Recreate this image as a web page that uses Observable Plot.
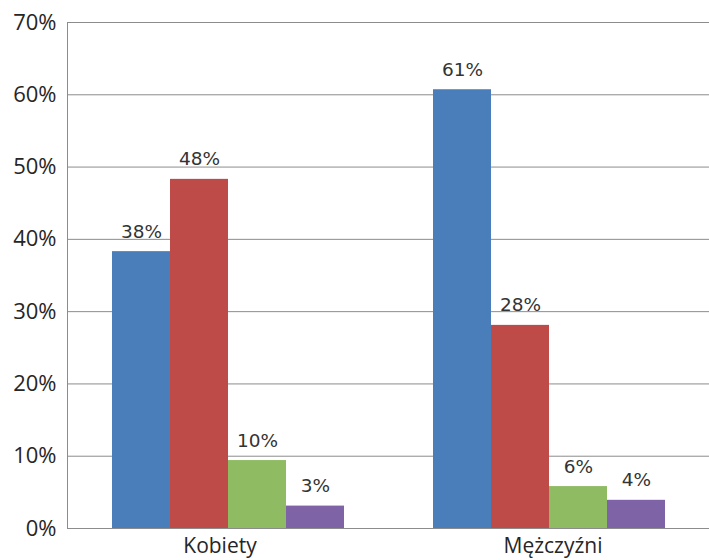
<!DOCTYPE html>
<html>
<head>
<meta charset="utf-8">
<script src="https://cdn.jsdelivr.net/npm/d3@7"></script>
<script src="https://cdn.jsdelivr.net/npm/@observablehq/plot@0.6"></script>
<style>
  html, body { margin: 0; padding: 0; background: #fff; }
  #chart svg { display: block; }
</style>
</head>
<body>
<div id="chart"></div>
<script>
const groups = ["Kobiety", "Mężczyźni"];
const series = ["s1", "s2", "s3", "s4"];
const colors = ["#4A7EBB", "#BE4B48", "#8FBC63", "#7E64A6"];
const kobietyValues = [0.383, 0.483, 0.094, 0.031];
const mezczyzniValues = [0.607, 0.281, 0.058, 0.039];
const kobietyLabels = ["38%", "48%", "10%", "3%"];
const mezczyzniLabels = ["61%", "28%", "6%", "4%"];
const yTicks = [0, 0.1, 0.2, 0.3, 0.4, 0.5, 0.6, 0.7];

const data = [];
series.forEach((s, i) => data.push({group: groups[0], series: s, value: kobietyValues[i], label: kobietyLabels[i]}));
series.forEach((s, i) => data.push({group: groups[1], series: s, value: mezczyzniValues[i], label: mezczyzniLabels[i]}));

const catStyle = {fx: d => d, text: d => d, frameAnchor: "bottom", lineAnchor: "top",
  dy: 10, fontSize: 21, fill: "#262626", facetAnchor: null};

const chart = Plot.plot({
  width: 709,
  height: 560,
  marginLeft: 67,
  marginRight: 0,
  marginTop: 22,
  marginBottom: 32,
  style: {fontFamily: "'Open Sans', sans-serif", background: "#fff"},
  fx: {domain: groups, paddingInner: 0, paddingOuter: 0, label: null, axis: null},
  x: {domain: series, paddingInner: 0, paddingOuter: 0.75, axis: null},
  y: {domain: [0, 0.7], label: null},
  color: {domain: series, range: colors},
  marks: [
    Plot.gridY(yTicks, {stroke: "#8c8c8c", strokeOpacity: 1, strokeWidth: 1}),
    Plot.barY(data, {fx: "group", x: "series", y: "value", fill: "series"}),
    Plot.text(data, {fx: "group", x: "series", y: "value", text: "label",
      lineAnchor: "bottom", dy: -14, fontSize: 18.5, fill: "#333",
      fontFamily: "'DejaVu Sans', sans-serif"}),
    Plot.frame({anchor: "left", stroke: "#8c8c8c", facetAnchor: "left"}),
    Plot.axisY(yTicks, {tickSize: 0, tickPadding: 11, fontSize: 22, fill: "#262626",
      tickFormat: d => Math.round(d * 100) + "%", label: null}),
    Plot.text([groups[0]], {fx: d => d, text: d => d, frameAnchor: "bottom", lineAnchor: "top",
      dy: 10, dx: -8, fontSize: 21, fill: "#262626"}),
    Plot.text([groups[1]], {fx: d => d, text: d => d, frameAnchor: "bottom", lineAnchor: "top",
      dy: 10, dx: 4, fontSize: 21, fill: "#262626"})
  ]
});
document.getElementById("chart").appendChild(chart);
</script>
</body>
</html>
